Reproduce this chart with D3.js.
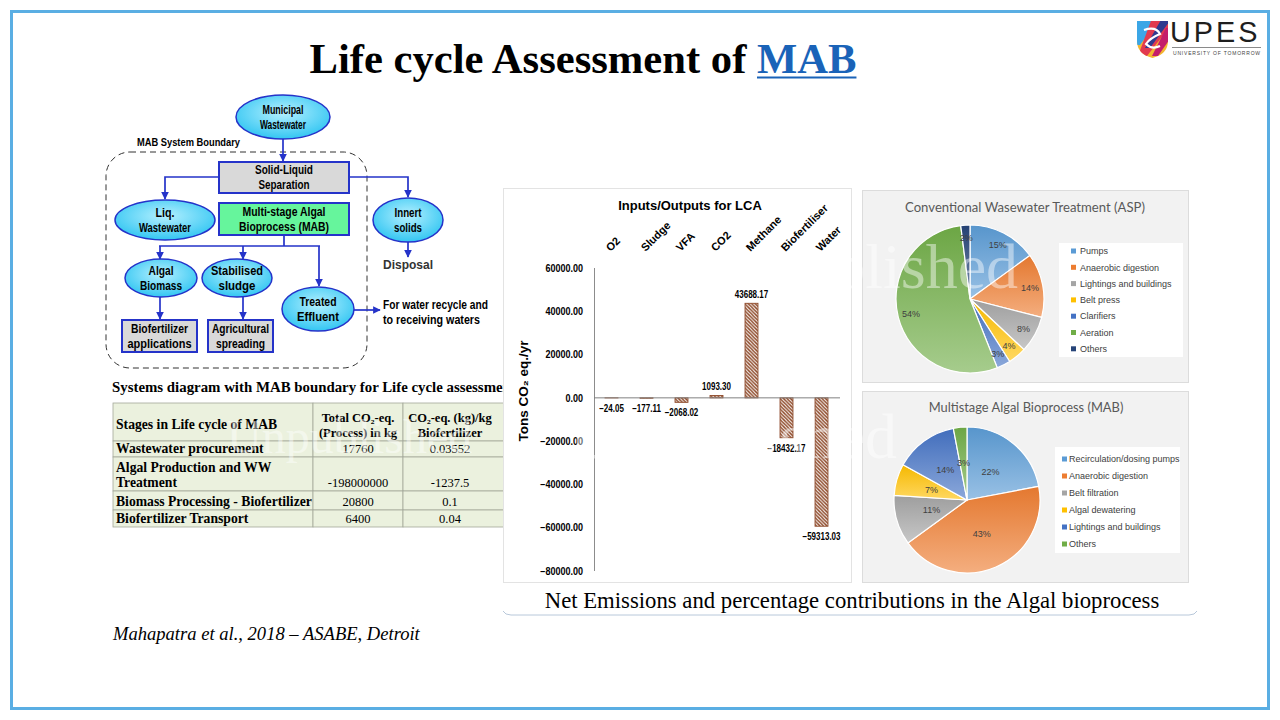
<!DOCTYPE html>
<html>
<head>
<meta charset="utf-8">
<script src="https://cdn.jsdelivr.net/npm/d3@7"></script>
<style>
body{margin:0;background:#fff;}
svg{display:block;}
</style>
</head>
<body>
<div id="canvas"></div>
<script>
// bar chart data
var categories = ['O2', 'Sludge', 'VFA', 'CO2', 'Methane', 'Biofertiliser', 'Water'];
var emissions = [-24.05, -177.11, -2068.02, 1093.30, 43688.17, -18432.17, -59313.03];
var yTicks = [60000, 40000, 20000, 0, -20000, -40000, -60000, -80000];

// pie data
var aspLabels = ['Pumps', 'Anaerobic digestion', 'Lightings and buildings', 'Belt press', 'Clarifiers', 'Aeration', 'Others'];
var aspValues = [15, 14, 8, 4, 3, 54, 2];
var mabLabels = ['Recirculation/dosing pumps', 'Anaerobic digestion', 'Belt filtration', 'Algal dewatering', 'Lightings and buildings', 'Others'];
var mabValues = [22, 43, 11, 7, 14, 3];

// table data
var tableHeaders = ['Stages in Life cycle of MAB', 'Total CO₂-eq.|(Process) in kg', 'CO₂-eq. (kg)/kg|Biofertilizer'];
var tableStages = ['Wastewater procurement', 'Algal Production and WW|Treatment', 'Biomass Processing - Biofertilizer', 'Biofertilizer Transport'];
var tableTotal = ['17760', '-198000000', '20800', '6400'];
var tablePerKg = ['0.03552', '-1237.5', '0.1', '0.04'];

var W = 1280, H = 720;
var SANS = '"Liberation Sans", Arial, sans-serif',
    SERIF = '"Liberation Serif", "Times New Roman", serif',
    CAL = 'Lato, "Open Sans", sans-serif';

var svg = d3.select('#canvas').append('svg').attr('width', W).attr('height', H);
var defs = svg.append('defs');
svg.append('rect').attr('width', W).attr('height', H).attr('fill', '#fff');

function fit(sel, w) {
    var len = sel.node().getComputedTextLength();
    if (len > 0) sel.attr('font-size', parseFloat(sel.attr('font-size')) * w / len);
    return sel;
}
// squeeze a text horizontally, like a narrow font
function squeeze(sel, k) {
    sel.each(function () {
        var len = this.getComputedTextLength();
        d3.select(this).attr('textLength', len * k).attr('lengthAdjust', 'spacingAndGlyphs');
    });
    return sel;
}

// slide frame
svg.append('rect').attr('x', 11.5).attr('y', 11.5).attr('width', 1257).attr('height', 697)
    .attr('fill', 'none').attr('stroke', '#5aaee3').attr('stroke-width', 3);

// title
var title = svg.append('text').attr('x', 583).attr('y', 73).attr('text-anchor', 'middle')
    .attr('font-family', SERIF).attr('font-weight', 'bold').attr('font-size', 40).attr('fill', '#000');
title.append('tspan').text('Life cycle Assessment of ');
var mab = title.append('tspan').attr('fill', '#1a63b8').text('MAB');
fit(title, 547);
var mb = mab.node().getBBox();
svg.append('line').attr('x1', mb.x).attr('x2', mb.x + mb.width).attr('y1', 77.5).attr('y2', 77.5)
    .attr('stroke', '#1a63b8').attr('stroke-width', 2);

// logo
var logo = svg.append('g');
defs.append('clipPath').attr('id', 'shield').append('path')
    .attr('d', 'M1137,21L1168,21L1168,41Q1168,54 1152.5,58Q1137,54 1137,41Z');
var sh = logo.append('g').attr('clip-path', 'url(#shield)');
sh.append('rect').attr('x', 1135).attr('y', 18).attr('width', 36).attr('height', 42).attr('fill', '#f3b530');
sh.append('path').attr('d', 'M1135,18L1160,18L1140,45L1135,45Z').attr('fill', '#3ba6e6');
sh.append('path').attr('d', 'M1152,18L1172,18L1172,24L1147,56L1138,56Z').attr('fill', '#e23a4f');
sh.append('path').attr('d', 'M1162,18L1172,18L1150,48L1145,48Z').attr('fill', '#2f3a8f');
sh.append('path').attr('d', 'M1166,28L1172,28L1172,36L1158,56L1152,56Z').attr('fill', '#c41d6b');
sh.append('path').attr('d', 'M1144,30Q1156,26 1160,34Q1150,38 1146,44Q1152,50 1160,46')
    .attr('fill', 'none').attr('stroke', '#fff').attr('stroke-width', 2.2);
fit(logo.append('text').attr('x', 1170).attr('y', 42).attr('font-family', SANS).attr('font-size', 30)
    .attr('letter-spacing', 3).attr('fill', '#1e1e1e').text('UPES'), 90);
logo.append('line').attr('x1', 1172).attr('x2', 1261).attr('y1', 47.5).attr('y2', 47.5)
    .attr('stroke', '#8a8a8a').attr('stroke-width', 1.2);
fit(logo.append('text').attr('x', 1173).attr('y', 55).attr('font-family', SANS).attr('font-size', 5)
    .attr('letter-spacing', 0.8).attr('fill', '#444').text('UNIVERSITY OF TOMORROW'), 88);

// ---------- system diagram ----------
var flow = svg.append('g');
var BLUE = '#2533c9';
defs.append('marker').attr('id', 'arr').attr('viewBox', '0 0 10 10').attr('refX', 9).attr('refY', 5)
    .attr('markerWidth', 4.5).attr('markerHeight', 4.5).attr('orient', 'auto')
    .append('path').attr('d', 'M0,0L10,5L0,10Z').attr('fill', BLUE);
var eg = defs.append('radialGradient').attr('id', 'cyan').attr('cx', '50%').attr('cy', '40%').attr('r', '60%');
eg.append('stop').attr('offset', '0%').attr('stop-color', '#b5f0ff');
eg.append('stop').attr('offset', '100%').attr('stop-color', '#33c6f2');

flow.append('rect').attr('x', 106).attr('y', 152).attr('width', 261).attr('height', 216).attr('rx', 24)
    .attr('fill', 'none').attr('stroke', '#333').attr('stroke-dasharray', '6,4').attr('stroke-width', 1);

var arrows = [
    [[283, 139], [283, 161]],
    [[219, 177], [165, 177], [165, 199]],
    [[349, 177], [408, 177], [408, 197]],
    [[408, 242], [408, 257]],
    [[160, 246], [160, 259]],
    [[243, 246], [243, 259]],
    [[319, 246], [319, 286]],
    [[160, 297], [160, 319]],
    [[243, 297], [243, 319]],
    [[354, 310], [380, 310]]
];
var line = d3.line();
flow.selectAll('.arrow').data(arrows).enter().append('path').attr('class', 'arrow')
    .attr('d', line).attr('fill', 'none').attr('stroke', BLUE).attr('stroke-width', 1.7)
    .attr('marker-end', 'url(#arr)');
flow.append('path').attr('d', 'M284,235L284,246M159,246L320,246').attr('fill', 'none')
    .attr('stroke', BLUE).attr('stroke-width', 1.7);

var ovals = [
    {cx: 283, cy: 117, rx: 47, ry: 22, t: ['Municipal', 'Wastewater'], w: [41, 46]},
    {cx: 165, cy: 220, rx: 50, ry: 20, t: ['Liq.', 'Wastewater'], w: [19, 52]},
    {cx: 408, cy: 220, rx: 35, ry: 22, t: ['Innert', 'solids'], w: [27, 28]},
    {cx: 161, cy: 278, rx: 36, ry: 19, t: ['Algal', 'Biomass'], w: [25, 42]},
    {cx: 237, cy: 278, rx: 35, ry: 19, t: ['Stabilised', 'sludge'], w: [52, 37]},
    {cx: 318, cy: 309, rx: 36, ry: 22, t: ['Treated', 'Effluent'], w: [37, 42]}
];
var boxes = [
    {x: 219, y: 162, w: 130, h: 31, fill: '#d9d9d9', t: ['Solid-Liquid', 'Separation'], tw: [58, 51]},
    {x: 219, y: 203, w: 130, h: 32, fill: '#66f59c', t: ['Multi-stage Algal', 'Bioprocess (MAB)'], tw: [83, 90]},
    {x: 122, y: 320, w: 75, h: 32, fill: '#d9d9d9', t: ['Biofertilizer', 'applications'], tw: [57, 64]},
    {x: 208, y: 320, w: 65, h: 32, fill: '#d9d9d9', t: ['Agricultural', 'spreading'], tw: [57, 49]}
];
function narrow(x, y, s, w, anchor, size) {
    return flow.append('text').attr('x', x).attr('y', y).attr('text-anchor', anchor || 'middle')
        .attr('font-family', SANS).attr('font-weight', 'bold').attr('font-size', size || 12.5)
        .attr('textLength', w).attr('lengthAdjust', 'spacingAndGlyphs').attr('fill', '#000').text(s);
}
function twoLines(cx, cy, t, w) {
    t.forEach(function (s, i) { narrow(cx, cy - 3.5 + i * 15, s, w[i]); });
}
ovals.forEach(function (d) {
    flow.append('ellipse').attr('cx', d.cx).attr('cy', d.cy).attr('rx', d.rx).attr('ry', d.ry)
        .attr('fill', 'url(#cyan)').attr('stroke', BLUE).attr('stroke-width', 1.5);
    twoLines(d.cx, d.cy, d.t, d.w);
});
boxes.forEach(function (d) {
    flow.append('rect').attr('x', d.x).attr('y', d.y).attr('width', d.w).attr('height', d.h)
        .attr('fill', d.fill).attr('stroke', BLUE).attr('stroke-width', 2);
    twoLines(d.x + d.w / 2, d.y + d.h / 2, d.t, d.tw);
});
narrow(137, 146, 'MAB System Boundary', 103, 'start', 11);
narrow(408, 269, 'Disposal', 50).attr('fill', '#333');
narrow(383, 309, 'For water recycle and', 105, 'start');
narrow(383, 324, 'to receiving waters', 97, 'start');

// ---------- table ----------
defs.append('clipPath').attr('id', 'tblClip').append('rect')
    .attr('x', 100).attr('y', 372).attr('width', 403).attr('height', 170);
var tbl = svg.append('g').attr('clip-path', 'url(#tblClip)');
var cap = tbl.append('text').attr('x', 112).attr('y', 392).attr('font-family', SERIF).attr('font-weight', 'bold')
    .attr('font-size', 13.5).text('Systems diagram with MAB boundary for Life cycle assessment');
var capLen = cap.node().getSubStringLength(0, 57);
cap.attr('font-size', 13.5 * 391 / capLen);

var colX = [113, 313, 403, 497];
var rowY = [403, 441, 457, 491, 510, 527];
var rows = [tableHeaders].concat(tableStages.map(function (s, i) { return [s, tableTotal[i], tablePerKg[i]]; }));
rows.forEach(function (r, ri) {
    r.forEach(function (cell, ci) {
        var x0 = colX[ci], x1 = colX[ci + 1], y0 = rowY[ri], y1 = rowY[ri + 1];
        tbl.append('rect').attr('x', x0).attr('y', y0).attr('width', x1 - x0 + (ci === 2 ? 20 : 0)).attr('height', y1 - y0)
            .attr('fill', '#ebf1de').attr('stroke', '#a3a89a').attr('stroke-width', 0.8);
        var parts = cell.split('|');
        var bold = ci === 0 || ri === 0;
        parts.forEach(function (p, pi) {
            var y = (ri === 0 && ci === 0) ? 429 : y1 - 4 - (parts.length - 1 - pi) * 15;
            if (ri > 0 && ci > 0) y = y1 - 4;
            tbl.append('text').attr('class', ci === 0 ? 'lab' : (ri === 0 ? 'hd' : 'val'))
                .attr('x', ci === 0 ? x0 + 3 : (x0 + x1) / 2)
                .attr('y', y).attr('text-anchor', ci === 0 ? 'start' : 'middle')
                .attr('font-family', SERIF).attr('font-weight', bold ? 'bold' : 'normal')
                .attr('font-size', 12.5).attr('fill', '#000').text(p);
        });
    });
});
// scale label column so the longest stage fits the first column
var longest = tbl.selectAll('text.lab').filter(function () { return this.textContent === tableStages[2]; });
var k = 196 / longest.node().getComputedTextLength();
tbl.selectAll('text.lab').attr('font-size', 12.5 * k);

// ---------- bar chart ----------
var bar = svg.append('g');
bar.append('rect').attr('x', 503.5).attr('y', 188.5).attr('width', 348).attr('height', 394)
    .attr('fill', '#fff').attr('stroke', '#e3e3e3');
var pat = defs.append('pattern').attr('id', 'hatch').attr('patternUnits', 'userSpaceOnUse')
    .attr('width', 3.5).attr('height', 3.5);
pat.append('rect').attr('width', 3.5).attr('height', 3.5).attr('fill', '#fff');
pat.append('path').attr('d', 'M-1,-1L4.5,4.5M-1,2.5L1,4.5M2.5,-1L4.5,1').attr('stroke', '#8e4a2a').attr('stroke-width', 1.4);

var bx = d3.scaleBand().domain(categories).range([594, 839]).paddingInner(0.63).paddingOuter(0.315);
var by = d3.scaleLinear().domain([-80000, 60000]).range([571, 268]);
var fmt = d3.format('.2f');

bar.append('text').attr('x', 690).attr('y', 210).attr('text-anchor', 'middle').attr('font-family', SANS)
    .attr('font-weight', 'bold').attr('font-size', 13).text('Inputs/Outputs for LCA');

var gy = bar.append('g').attr('transform', 'translate(594,0)')
    .call(d3.axisLeft(by).tickValues(yTicks).tickSize(0).tickPadding(11).tickFormat(fmt));
gy.select('.domain').remove();
squeeze(gy.selectAll('text').attr('font-family', SANS).attr('font-weight', 'bold').attr('font-size', 10).attr('fill', '#000'), 0.9);
bar.append('line').attr('x1', 594.5).attr('x2', 594.5).attr('y1', by(yTicks[0])).attr('y2', by(yTicks[yTicks.length - 1]))
    .attr('stroke', '#8c8c8c');
bar.append('text').attr('transform', 'translate(528,391) rotate(-90)').attr('text-anchor', 'middle')
    .attr('font-family', SANS).attr('font-weight', 'bold').attr('font-size', 13.5).text('Tons CO₂ eq./yr');

bar.selectAll('.bar').data(emissions).enter().append('rect').attr('class', 'bar')
    .attr('x', function (d, i) { return bx(categories[i]); })
    .attr('width', bx.bandwidth())
    .attr('y', function (d) { return Math.min(by(d), by(0)); })
    .attr('height', function (d) { return Math.abs(by(d) - by(0)); })
    .attr('fill', 'url(#hatch)').attr('stroke', '#8e4a2a').attr('stroke-width', 0.9);
bar.append('line').attr('x1', 594).attr('x2', 840).attr('y1', by(0)).attr('y2', by(0)).attr('stroke', '#808080');

squeeze(bar.selectAll('.vlab').data(emissions).enter().append('text').attr('class', 'vlab')
    .attr('x', function (d, i) { return bx(categories[i]) + bx.bandwidth() / 2; })
    .attr('y', function (d) { return d >= 0 ? by(d) - 5 : by(d) + 14; })
    .attr('text-anchor', 'middle').attr('font-family', SANS).attr('font-weight', 'bold').attr('font-size', 10)
    .text(function (d) { return fmt(d); }), 0.8);

bar.selectAll('.clab').data(categories).enter().append('text').attr('class', 'clab')
    .attr('transform', function (d) { return 'translate(' + (bx(d) + bx.bandwidth() / 2 - 1) + ',252) rotate(-45)'; })
    .attr('font-family', SANS).attr('font-weight', 'bold').attr('font-size', 11).text(function (d) { return d; });

// caption under charts
var netCap = svg.append('text').attr('x', 852).attr('y', 608).attr('text-anchor', 'middle')
    .attr('font-family', SERIF).attr('font-size', 20).attr('fill', '#000')
    .text('Net Emissions and percentage contributions in the Algal bioprocess');
fit(netCap, 615);
svg.append('path').attr('d', 'M503,611Q505,615 511,615L1189,615Q1195,615 1197,611')
    .attr('fill', 'none').attr('stroke', '#b8c8da').attr('stroke-width', 1);

// citation
fit(svg.append('text').attr('x', 113).attr('y', 640).attr('font-family', SERIF).attr('font-style', 'italic')
    .attr('font-size', 16).text('Mahapatra et al., 2018 – ASABE, Detroit'), 307);

// ---------- pies ----------
var aspColors = ['#5b9bd5', '#ed7d31', '#a5a5a5', '#ffc000', '#4472c4', '#70ad47', '#264478'];
var mabColors = ['#5b9bd5', '#ed7d31', '#a5a5a5', '#ffc000', '#4472c4', '#70ad47'];

function drawPie(o) {
    var g = svg.append('g');
    g.append('rect').attr('x', o.panel[0] + 0.5).attr('y', o.panel[1] + 0.5).attr('width', o.panel[2]).attr('height', o.panel[3])
        .attr('fill', '#f2f2f2').attr('stroke', '#dcdcdc');
    fit(g.append('text').attr('x', o.titleX).attr('y', o.titleY).attr('text-anchor', 'middle').attr('font-family', CAL)
        .attr('font-size', 13).attr('fill', '#595959').text(o.title), o.titleW);
    o.colors.forEach(function (c, i) {
        var gr = defs.append('linearGradient').attr('id', o.id + i).attr('x1', 0).attr('y1', 0).attr('x2', 0).attr('y2', 1);
        gr.append('stop').attr('offset', '0%').attr('stop-color', d3.interpolateRgb(c, '#000')(0.04));
        gr.append('stop').attr('offset', '100%').attr('stop-color', d3.interpolateRgb(c, '#fff')(0.38));
    });
    var arcs = d3.pie().sort(null)(o.values);
    var arc = d3.arc().innerRadius(0).outerRadius(o.r);
    var lab = d3.arc().innerRadius(o.lr).outerRadius(o.lr);
    var pg = g.append('g').attr('transform', 'translate(' + o.cx + ',' + o.cy + ')');
    pg.selectAll('path').data(arcs).enter().append('path').attr('d', arc)
        .attr('fill', function (d, i) { return 'url(#' + o.id + i + ')'; })
        .attr('stroke', '#fff').attr('stroke-width', 1.2);
    pg.selectAll('text').data(arcs).enter().append('text')
        .attr('transform', function (d) { return 'translate(' + lab.centroid(d) + ')'; })
        .attr('dy', '0.35em').attr('text-anchor', 'middle').attr('font-family', SANS).attr('font-size', 9)
        .attr('fill', '#404040').text(function (d) { return d.data + '%'; });
    g.append('rect').attr('x', o.leg[0]).attr('y', o.leg[1]).attr('width', o.leg[2]).attr('height', o.leg[3]).attr('fill', '#fff');
    o.labels.forEach(function (s, i) {
        var y = o.legY + i * o.legStep;
        g.append('rect').attr('x', o.sqX).attr('y', y - 2.5).attr('width', 5).attr('height', 5).attr('fill', o.colors[i]);
        g.append('text').attr('x', o.txX).attr('y', y + 3.2).attr('font-family', SANS).attr('font-size', 9)
            .attr('fill', '#404040').text(s);
    });
}

drawPie({id: 'asp', panel: [862, 190, 326, 192], title: 'Conventional Wasewater Treatment (ASP)', titleX: 1025, titleY: 212, titleW: 240,
    values: aspValues, labels: aspLabels, colors: aspColors, cx: 970, cy: 299, r: 74, lr: 61,
    leg: [1059, 243, 124, 114], legY: 251, legStep: 16.3, sqX: 1071, txX: 1080});
drawPie({id: 'mab', panel: [862, 391, 326, 191], title: 'Multistage Algal Bioprocess (MAB)', titleX: 1026, titleY: 412, titleW: 195,
    values: mabValues, labels: mabLabels, colors: mabColors, cx: 967, cy: 500, r: 73, lr: 37,
    leg: [1055, 447, 125, 106], legY: 459, legStep: 17, sqX: 1062, txX: 1069});

// faint "Unpublished" watermarks
[[691, 288, 64], [570, 458, 64], [227, 453, 48]].forEach(function (w) {
    svg.append('text').attr('x', w[0]).attr('y', w[1]).attr('font-family', SERIF).attr('font-size', w[2])
        .attr('fill', '#fff').attr('fill-opacity', 0.45).text('Unpublished');
});
</script>
</body>
</html>
